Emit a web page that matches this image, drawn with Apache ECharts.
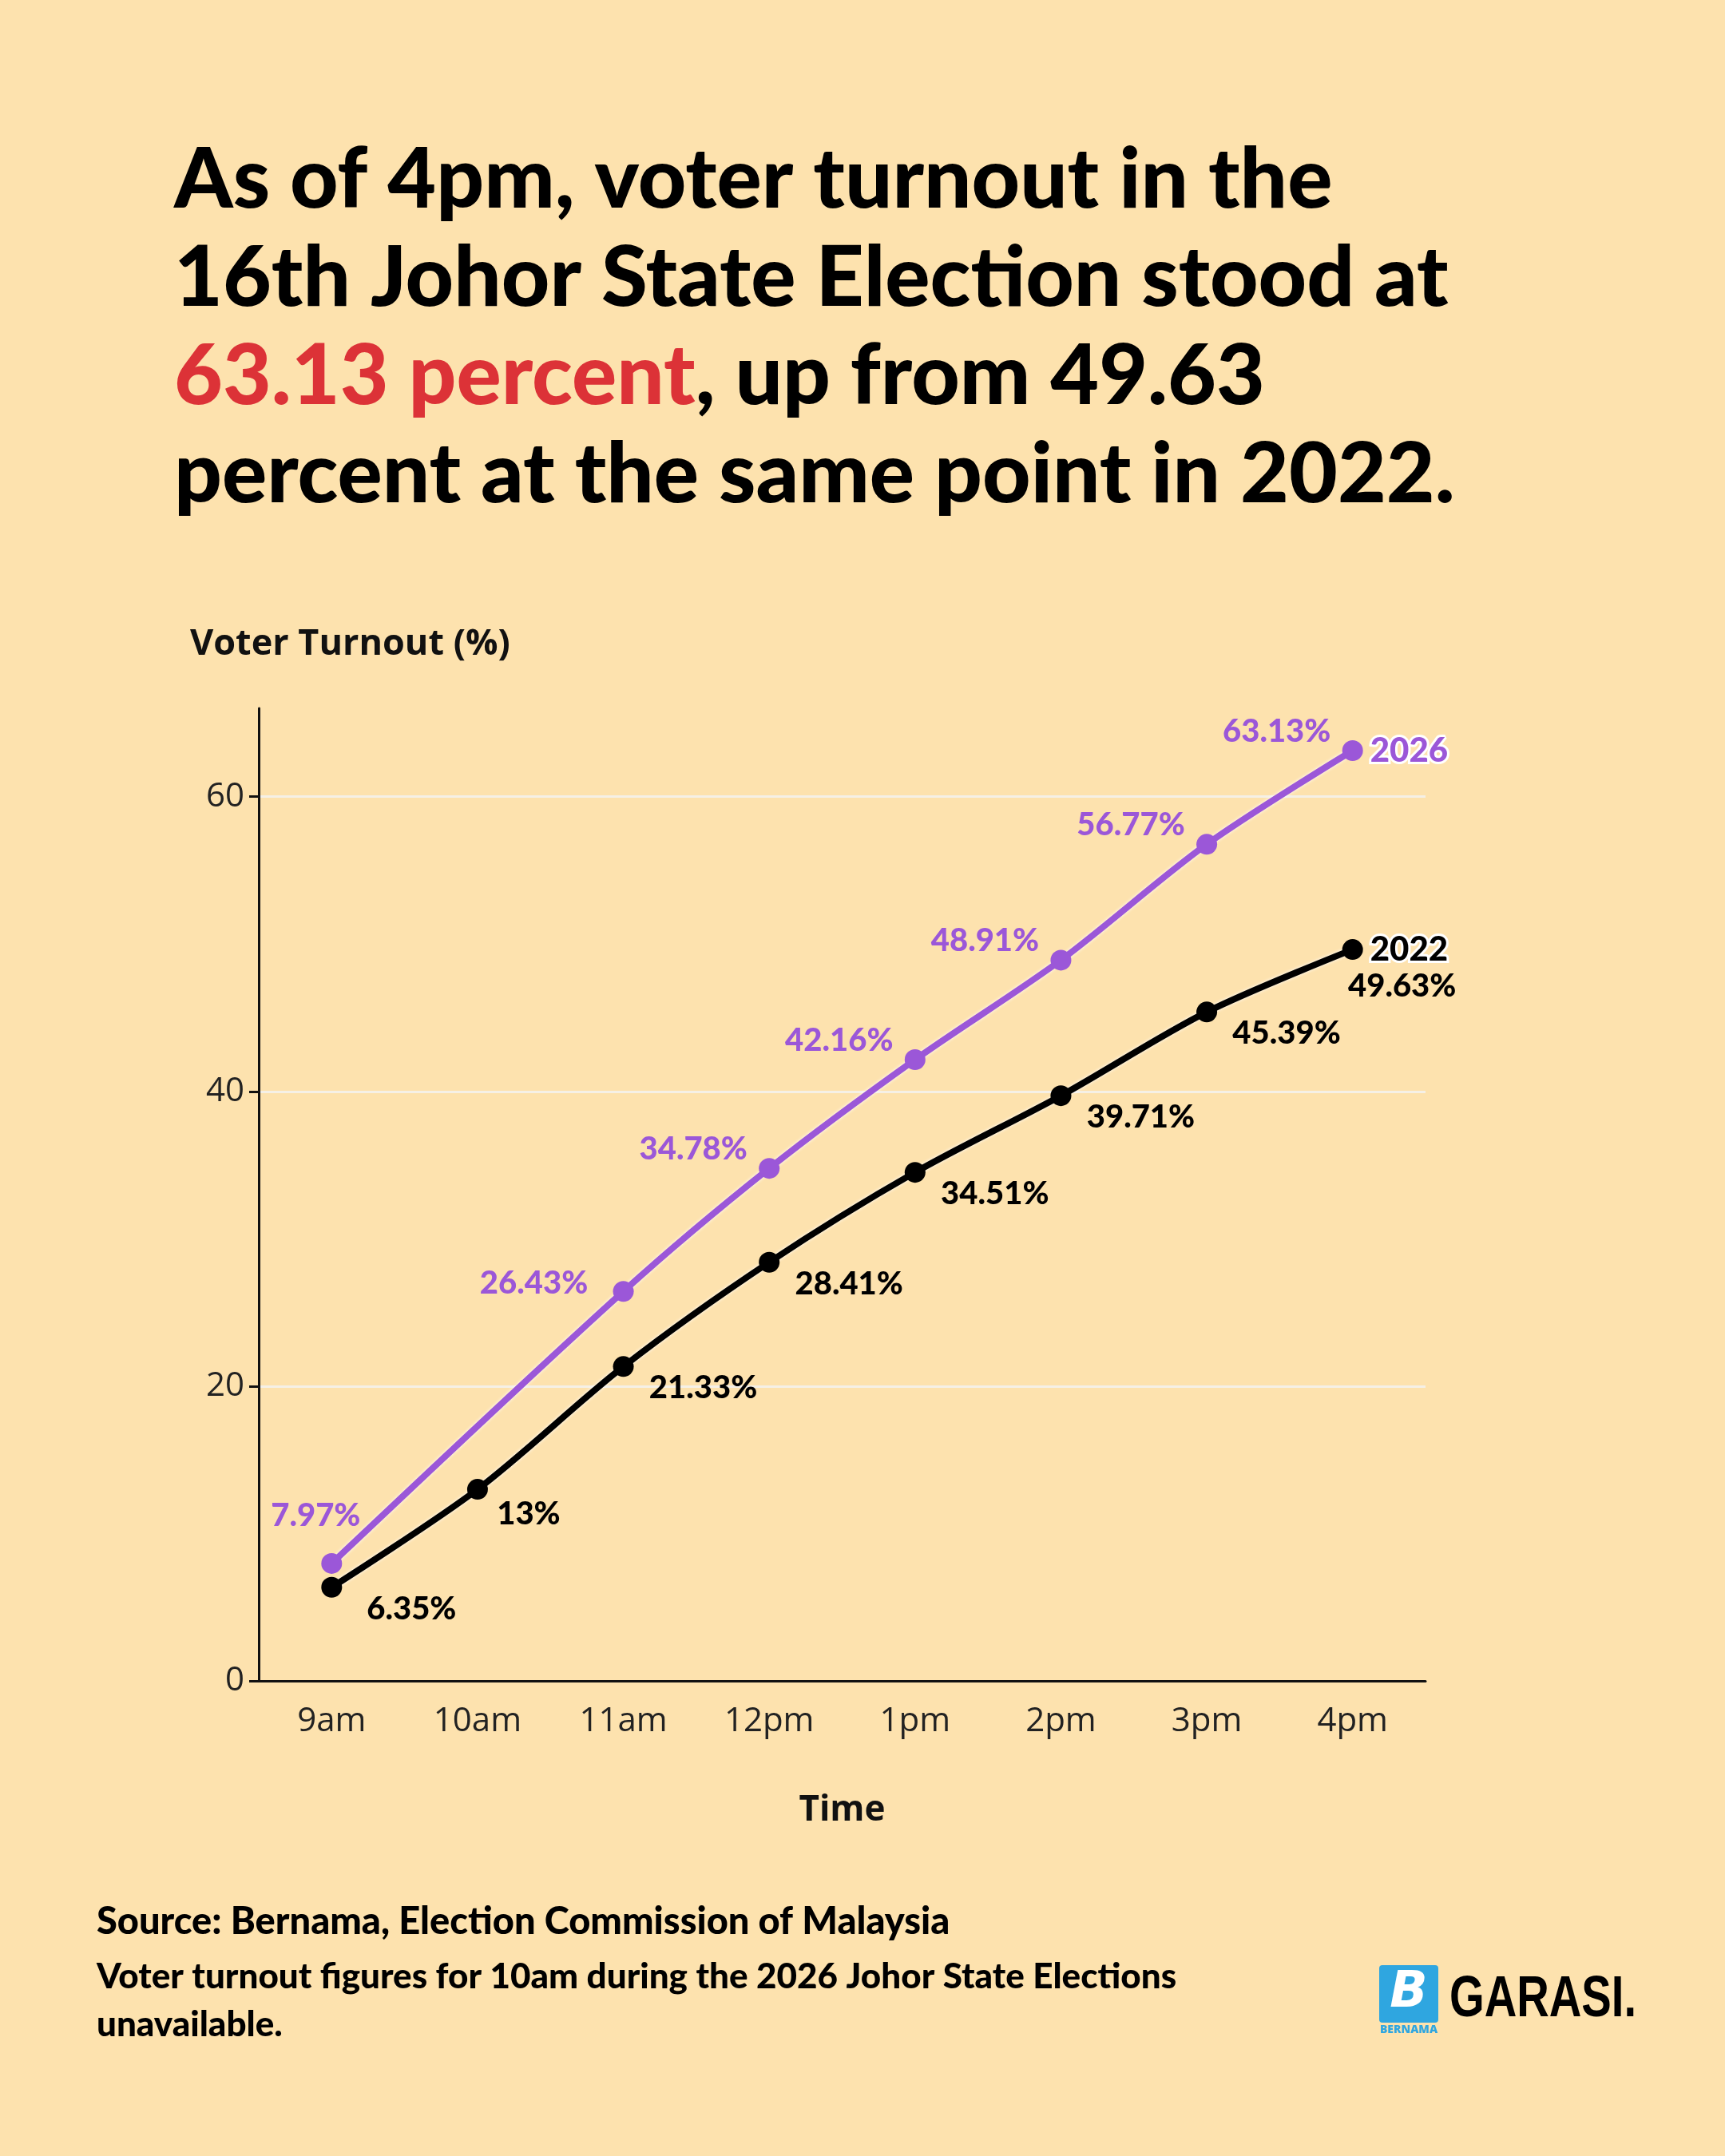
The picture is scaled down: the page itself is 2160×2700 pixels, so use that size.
<!DOCTYPE html>
<html><head><meta charset="utf-8">
<script src="https://cdn.jsdelivr.net/npm/echarts@6/dist/echarts.min.js"></script>
<style>html,body{margin:0;padding:0;background:#FDE2AE}#c{width:2160px;height:2700px}</style>
</head><body><div id="c"></div>
<script>
const categories = ['9am','10am','11am','12pm','1pm','2pm','3pm','4pm'];
const turnout2026 = [7.97, null, 26.43, 34.78, 42.16, 48.91, 56.77, 63.13];
const turnout2022 = [6.35, 13, 21.33, 28.41, 34.51, 39.71, 45.39, 49.63];
const yTicks = [0, 20, 40, 60];

const PURPLE = '#9B57D8';
const chart = echarts.init(document.getElementById('c'));
const tf = 'Lato, "Open Sans", sans-serif';
const bt = {fontFamily: tf, fontWeight: 900, fontSize: 105, color: '#000', lineHeight: 123};

// label placement tweaks (style only)
const offs2026 = {0: [-20, -60], 2: [-112, -10]};
const offs2022 = {1: [64, 31], 7: [62, 46]};
const withOffsets = (vals, offs) => vals.map((v, i) =>
  offs[i] ? {value: v, label: {offset: offs[i]}} : v);

chart.setOption({
  backgroundColor: '#FDE2AE',
  title: {
    left: 213, top: 160,
    text: '{b|As of 4pm, voter turnout in the}\n{b|16th Johor State Election stood at}\n{r|63.13 percent}{b|, up from 49.63}\n{b|percent at the same point in 2022.}',
    textStyle: {rich: {b: bt, r: Object.assign({}, bt, {color: '#DC3237'})}}
  },
  grid: {left: 324, right: 375, top: 887, bottom: 595},
  xAxis: {
    type: 'category', data: categories, boundaryGap: true,
    name: 'Time', nameLocation: 'middle', nameGap: 140,
    nameTextStyle: {fontFamily: '"Open Sans", sans-serif', fontWeight: 700, fontSize: 44, color: '#111'},
    axisLine: {lineStyle: {color: '#111', width: 3}},
    axisTick: {alignWithLabel: true, length: 12, lineStyle: {color: '#111', width: 3}},
    axisLabel: {fontFamily: '"Open Sans", sans-serif', fontSize: 42, color: '#222', margin: 30}
  },
  yAxis: {
    type: 'value', min: 0, max: 66, interval: 20,
    axisLine: {show: true, lineStyle: {color: '#111', width: 3}},
    axisTick: {show: true, length: 12, lineStyle: {color: '#111', width: 3}},
    axisLabel: {fontFamily: '"Open Sans", sans-serif', fontSize: 42, color: '#222', margin: 18, showMaxLabel: false},
    splitLine: {show: true, showMinLine: false, showMaxLine: false, lineStyle: {color: '#F5F0E6', width: 3}}
  },
  graphic: [
    {type: 'text', left: 238, top: 785, style: {text: 'Voter Turnout (%)', font: '700 45px "Open Sans", sans-serif', fill: '#111'}},
    {type: 'text', left: 121, top: 2383, style: {text: 'Source: Bernama, Election Commission of Malaysia', font: '900 47px Lato, sans-serif', fill: '#000'}},
    {type: 'text', left: 121, top: 2446, style: {text: 'Voter turnout figures for 10am during the 2026 Johor State Elections\nunavailable.', font: '900 44px Lato, sans-serif', fill: '#000', lineHeight: 60}},
    {type: 'rect', shape: {x: 1727, y: 2461, width: 74, height: 72, r: 4}, style: {fill: '#2FA6E0'}},
    {type: 'text', x: 1764, y: 2497, style: {text: 'B', font: 'italic 900 62px "DejaVu Sans", sans-serif', fill: '#fff', align: 'center', verticalAlign: 'middle'}},
    {type: 'text', x: 1764, y: 2542, style: {text: 'BERNAMA', font: '900 14px "Open Sans", sans-serif', fill: '#2FA6E0', align: 'center', verticalAlign: 'middle'}},
    {type: 'text', x: 1815, y: 2505, scaleX: 0.78, style: {text: 'GARASI.', font: '700 72px "Liberation Sans", sans-serif', fill: '#000', verticalAlign: 'middle'}}
  ],
  series: [
    {
      name: '2022', type: 'line', data: withOffsets(turnout2022, offs2022), smooth: 0.3,
      symbol: 'circle', symbolSize: 26,
      lineStyle: {color: '#000', width: 8, shadowColor: '#fff', shadowBlur: 4},
      itemStyle: {color: '#000'},
      label: {show: true, position: 'inside', offset: [100, 27], formatter: p => p.value + '%',
        fontFamily: tf, fontWeight: 900, fontSize: 40, color: '#000'},
      endLabel: {show: true, formatter: '2022', offset: [14, 0], fontFamily: tf, fontWeight: 900, fontSize: 42,
        color: '#000', textBorderColor: '#fff', textBorderWidth: 6},
      z: 3
    },
    {
      name: '2026', type: 'line', data: withOffsets(turnout2026, offs2026), smooth: 0.3, connectNulls: true,
      symbol: 'circle', symbolSize: 26,
      lineStyle: {color: PURPLE, width: 8, shadowColor: '#fff', shadowBlur: 4},
      itemStyle: {color: PURPLE},
      label: {show: true, position: 'inside', offset: [-95, -24], formatter: p => p.value + '%',
        fontFamily: tf, fontWeight: 900, fontSize: 40, color: PURPLE},
      endLabel: {show: true, formatter: '2026', offset: [14, 0], fontFamily: tf, fontWeight: 900, fontSize: 42,
        color: PURPLE, textBorderColor: '#fff', textBorderWidth: 6},
      z: 4
    }
  ]
});
</script></body></html>
